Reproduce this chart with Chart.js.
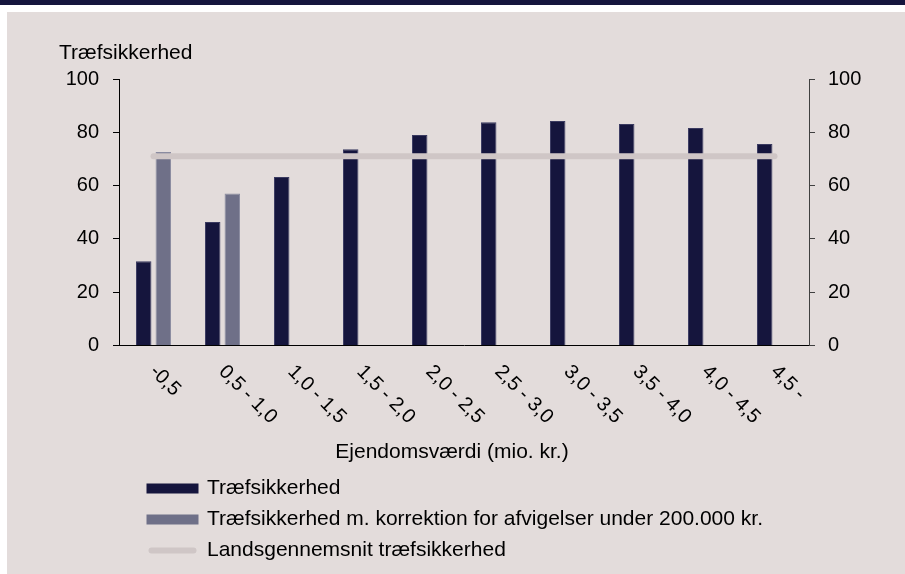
<!DOCTYPE html>
<html>
<head>
<meta charset="utf-8">
<script src="https://cdn.jsdelivr.net/npm/chart.js@4"></script>
<style>
  html, body { margin: 0; padding: 0; background: #ffffff; }
  #wrap { width: 905px; height: 574px; }
</style>
</head>
<body>
<div id="wrap"><canvas id="c" width="905" height="574"></canvas></div>
<script>
// ---- data ----
const categories = ['-0,5', '0,5 - 1,0', '1,0 - 1,5', '1,5 - 2,0', '2,0 - 2,5', '2,5 - 3,0', '3,0 - 3,5', '3,5 - 4,0', '4,0 - 4,5', '4,5 -'];
const traefsikkerhed = [31.6, 46.3, 63.2, 73.6, 79.0, 83.8, 84.2, 83.1, 81.6, 75.6];
const korrigeret = [72.6, 57.0, null, null, null, null, null, null, null, null];
const landsgennemsnit = [71, 71, 71, 71, 71, 71, 71, 71, 71, 71];
const yTickMin = 0;
const yTickMax = 100;
const yTickStep = 20;
const seriesNames = ['Træfsikkerhed', 'Træfsikkerhed m. korrektion for afvigelser under 200.000 kr.', 'Landsgennemsnit træfsikkerhed'];
const chartTitle = 'Træfsikkerhed';
const xAxisTitle = 'Ejendomsværdi (mio. kr.)';

// ---- styling ----
const FONT = "'Liberation Sans', Arial, sans-serif";
const NAVY = '#15153d';
const SLATE = '#6f7088';
const LINEC = '#cfc6c6';
const PANEL = '#e3dcdb';

const background = {
  id: 'background',
  beforeDraw(chart) {
    const c = chart.ctx;
    c.save();
    c.fillStyle = '#ffffff';
    c.fillRect(0, 0, chart.width, chart.height);
    c.fillStyle = NAVY;
    c.fillRect(0, 0, chart.width, 5);
    c.fillStyle = PANEL;
    c.fillRect(7, 12, chart.width - 7, chart.height - 12);
    c.restore();
  }
};

const placeBlocks = {
  id: 'placeBlocks',
  afterLayout(chart) {
    const t = chart.titleBlock;
    if (t) { t.left = 59; t.right = chart.width; t.top = 40.8; t.bottom = t.top + t.height; }
    const lg = chart.legend;
    if (lg) {
      const w = lg.right - lg.left;
      lg.left = 138.5; lg.right = lg.left + w;
      const h = lg.bottom - lg.top;
      lg.top = 468; lg.bottom = lg.top + h;
    }
  }
};

const xLabels = {
  id: 'xLabels',
  afterDraw(chart) {
    const c = chart.ctx;
    const xs = chart.scales.x;
    const ca = chart.chartArea;
    c.save();
    c.fillStyle = '#000000';
    c.font = '20px ' + FONT;
    c.textAlign = 'left';
    c.textBaseline = 'alphabetic';
    xs.getLabels().forEach((lab, i) => {
      const px = xs.getPixelForValue(i);
      c.save();
      c.translate(px - 4.5, ca.bottom + 27);
      c.rotate(Math.PI / 4);
      c.fillText(lab, 0, 0);
      c.restore();
    });
    c.font = '21px ' + FONT;
    c.textAlign = 'center';
    c.textBaseline = 'middle';
    c.fillText(xAxisTitle, (ca.left + ca.right) / 2 - 12, ca.bottom + 106.5);
    c.restore();
  }
};

const yCommon = (pos) => ({
  type: 'linear',
  position: pos,
  min: yTickMin,
  max: yTickMax,
  ticks: {
    stepSize: yTickStep,
    color: '#000000',
    font: { size: 20, family: FONT },
    padding: pos === 'left' ? 14 : 13
  },
  grid: { drawOnChartArea: false, drawTicks: true, tickLength: 6, color: pos === 'left' ? '#000000' : '#404040', lineWidth: 1 },
  border: { display: true, color: pos === 'left' ? '#000000' : '#404040', width: 1 },
  afterFit(s) { s.width = pos === 'left' ? 119 : 96; }
});

new Chart(document.getElementById('c'), {
  type: 'bar',
  data: {
    labels: categories,
    datasets: [
      {
        type: 'bar', label: seriesNames[0], data: traefsikkerhed,
        backgroundColor: NAVY, borderColor: '#3a3a60', borderWidth: 1,
        categoryPercentage: 0.568, barPercentage: 0.79, yAxisID: 'y', order: 1
      },
      {
        type: 'bar', label: seriesNames[1], data: korrigeret,
        backgroundColor: SLATE, borderColor: '#8a8ba0', borderWidth: 1,
        categoryPercentage: 0.568, barPercentage: 0.79, yAxisID: 'y', order: 1
      },
      {
        type: 'line', label: seriesNames[2], data: landsgennemsnit,
        borderColor: LINEC, backgroundColor: LINEC, borderWidth: 6, borderCapStyle: 'round',
        pointRadius: 0, pointHoverRadius: 0, fill: false, tension: 0, yAxisID: 'y', order: 0
      }
    ]
  },
  options: {
    responsive: false,
    animation: false,
    devicePixelRatio: 1,
    layout: { padding: { top: 53.8, left: 0, right: 0, bottom: 0 } },
    scales: {
      x: {
        type: 'category',
        offset: true,
        grid: { display: false },
        border: { display: true, color: '#000000', width: 1 },
        ticks: { display: false },
        afterFit(s) { s.height = 125.5; }
      },
      y: yCommon('left'),
      y1: yCommon('right')
    },
    plugins: {
      tooltip: { enabled: false },
      title: {
        display: true, text: chartTitle, align: 'start', color: '#000000',
        font: { size: 21, family: FONT, weight: 'normal' },
        padding: { top: 0, bottom: 0 }
      },
      legend: {
        display: true, position: 'bottom', align: 'start', fullSize: false,
        labels: {
          boxWidth: 48, boxHeight: 6, padding: 10, color: '#000000',
          font: { size: 21, family: FONT },
          generateLabels(chart) {
            return chart.data.datasets.map((ds, i) => {
              const isLine = ds.type === 'line';
              return {
                text: ds.label,
                fillStyle: isLine ? ds.borderColor : ds.backgroundColor,
                strokeStyle: isLine ? ds.borderColor : ds.backgroundColor,
                lineWidth: isLine ? 0 : 4,
                borderRadius: isLine ? 3 : 0,
                fontColor: '#000000',
                hidden: false,
                datasetIndex: i
              };
            });
          }
        }
      }
    }
  },
  plugins: [background, placeBlocks, xLabels]
});
</script>
</body>
</html>
